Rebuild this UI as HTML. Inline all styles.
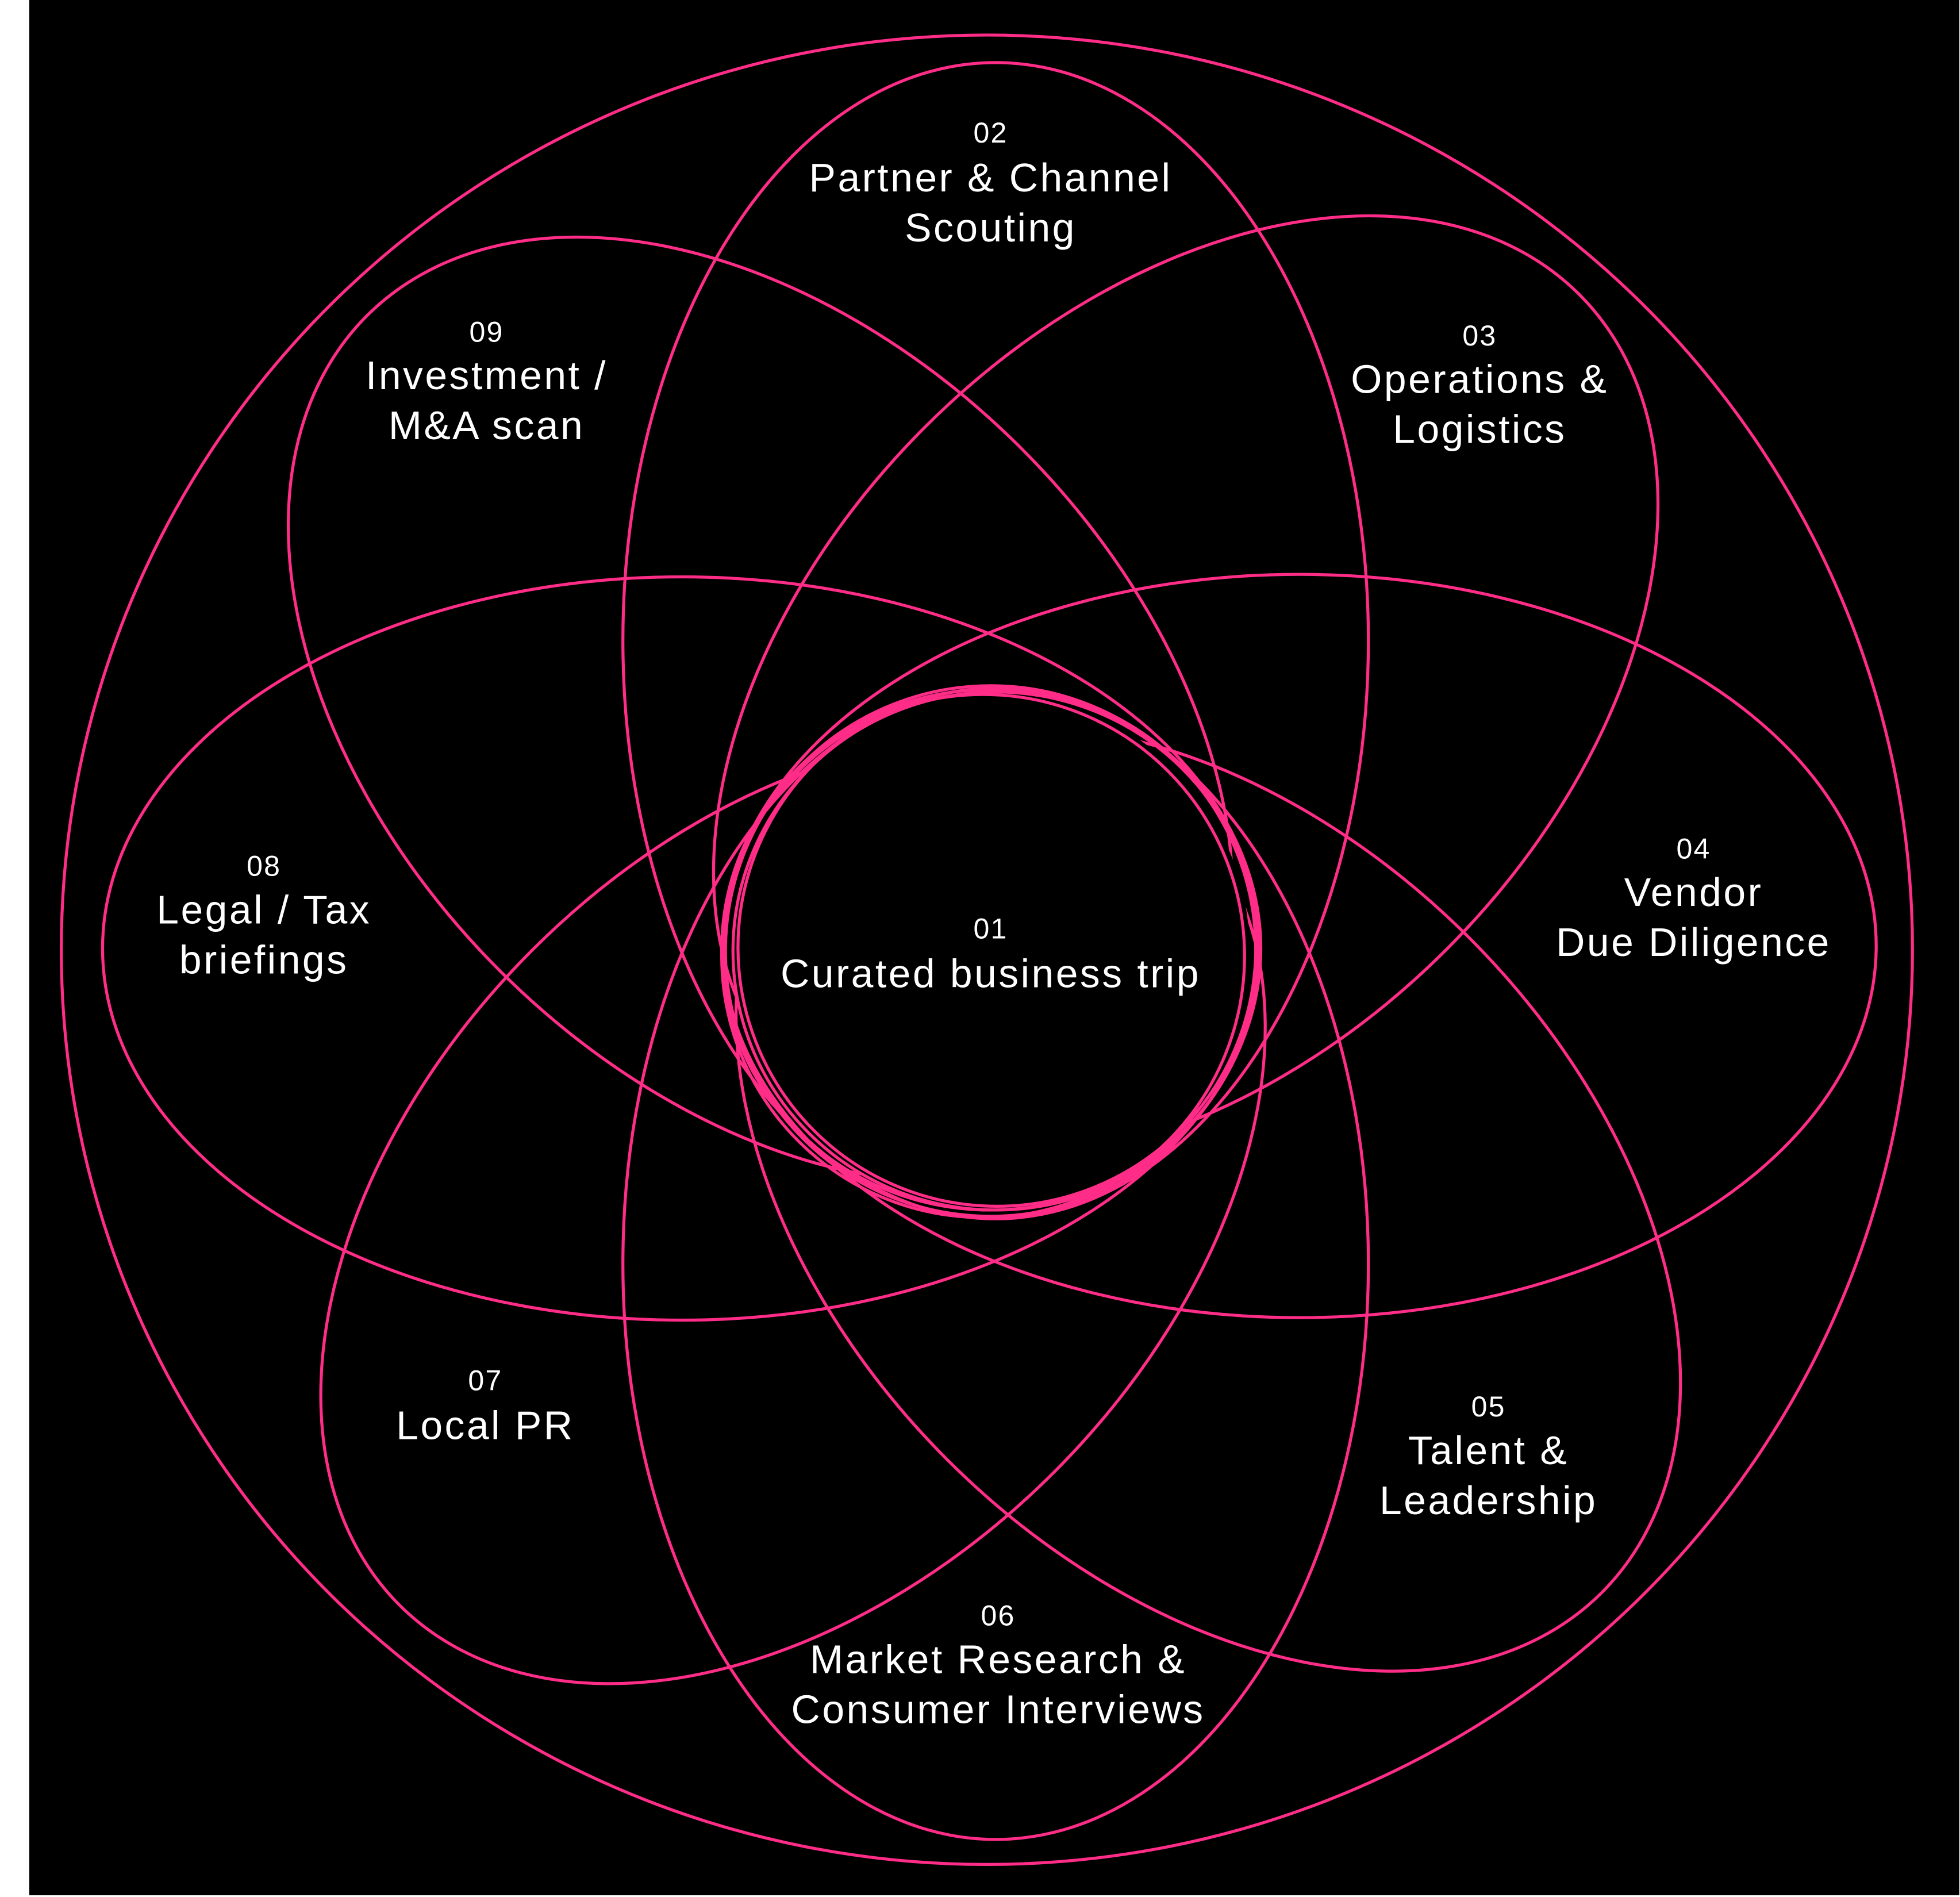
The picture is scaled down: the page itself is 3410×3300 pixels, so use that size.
<!DOCTYPE html>
<html><head><meta charset="utf-8"><style>
html,body{margin:0;padding:0;background:#fff;}
svg{display:block;}
text{font-family:"Liberation Sans",sans-serif;fill:#fff;text-anchor:middle;}
.n{font-size:23px;letter-spacing:1px;}
.t{font-size:32px;letter-spacing:1.6px;}
</style></head><body>
<svg width="3410" height="3300" viewBox="0 0 1567 1516" preserveAspectRatio="none" xmlns="http://www.w3.org/2000/svg">
<rect x="23.4" y="0" width="1543" height="1514.6" fill="#000"/>
<g fill="none" stroke="#ff2d87" stroke-width="2.4">
<ellipse cx="789" cy="759" rx="740" ry="731"/>
<ellipse cx="796" cy="512" rx="298" ry="462"/>
<ellipse cx="796" cy="1010" rx="298" ry="460"/>
<ellipse cx="545" cy="758" rx="463" ry="297"/>
<ellipse cx="1039" cy="756" rx="461" ry="297"/>
<ellipse cx="0" cy="0" rx="295" ry="445" transform="translate(948 550) rotate(45)"/>
<ellipse cx="0" cy="0" rx="295" ry="445" transform="translate(608 567) rotate(-45)"/>
<ellipse cx="0" cy="0" rx="295" ry="445" transform="translate(966 958) rotate(-45)"/>
<ellipse cx="0" cy="0" rx="295" ry="445" transform="translate(634 968) rotate(45)"/>
</g>
<circle cx="793" cy="760" r="206" fill="#000"/>
<g fill="none" stroke="#ff2d87" stroke-width="2.4">
<circle cx="792" cy="760" r="212"/>
<circle cx="797" cy="757" r="207"/>
<circle cx="786" cy="764" r="209"/>
<ellipse cx="796" cy="760" rx="210" ry="207"/>
<ellipse cx="792" cy="759" rx="215" ry="208"/>
</g>
<text class="n" x="792" y="114">02</text>
<text class="t" x="792" y="153">Partner &amp; Channel</text>
<text class="t" x="792" y="193">Scouting</text>
<text class="n" x="1183" y="276">03</text>
<text class="t" x="1183" y="314">Operations &amp;</text>
<text class="t" x="1183" y="354">Logistics</text>
<text class="n" x="389" y="273">09</text>
<text class="t" x="389" y="311">Investment /</text>
<text class="t" x="389" y="351">M&amp;A scan</text>
<text class="n" x="1354" y="686">04</text>
<text class="t" x="1354" y="724">Vendor</text>
<text class="t" x="1354" y="764">Due Diligence</text>
<text class="n" x="211" y="700">08</text>
<text class="t" x="211" y="738">Legal / Tax</text>
<text class="t" x="211" y="778">briefings</text>
<text class="n" x="792" y="750">01</text>
<text class="t" x="792" y="789">Curated business trip</text>
<text class="n" x="388" y="1111">07</text>
<text class="t" x="388" y="1150">Local PR</text>
<text class="n" x="1190" y="1132">05</text>
<text class="t" x="1190" y="1170">Talent &amp;</text>
<text class="t" x="1190" y="1210">Leadership</text>
<text class="n" x="798" y="1299">06</text>
<text class="t" x="798" y="1337">Market Research &amp;</text>
<text class="t" x="798" y="1377">Consumer Interviews</text>
</svg>
</body></html>
